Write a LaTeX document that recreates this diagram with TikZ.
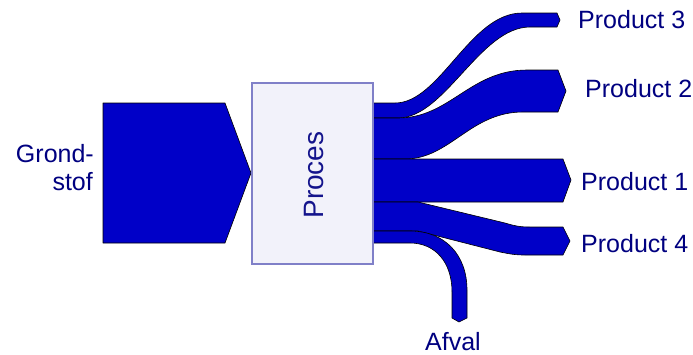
\documentclass[tikz,border=0pt]{standalone}
\usepackage{fontspec}
\setmainfont{Liberation Sans}
\definecolor{flowblue}{RGB}{0,0,200}
\definecolor{labelnavy}{RGB}{0,0,128}
\definecolor{boxfill}{RGB}{242,242,250}
\definecolor{boxline}{RGB}{128,128,200}
\begin{document}
\begin{tikzpicture}[x=1pt,y=-1pt,
  flow/.style={fill=flowblue,draw=black,line width=0.6pt,line join=round},
  lbl/.style={text=labelnavy,inner sep=0pt,font=\fontsize{25}{28}\selectfont},
  procbox/.style={fill=boxfill,draw=boxline,line width=1.4pt}]
\useasboundingbox (0,0) rectangle (693,354);

% raw material arrow
\draw[flow] (103,103) -- (225,103) -- (251,173) -- (225,243) -- (103,243) -- cycle;

% product 3
\draw[flow] (373,103) -- (395,103) .. controls (440,103) and (470,13) .. (522,13)
  -- (557,13) -- (560,20) -- (557,27) -- (530,27)
  .. controls (480,27) and (445,118) .. (398,118) -- (373,118) -- cycle;
% product 2
\draw[flow] (373,118) -- (398,118) .. controls (450,118) and (470,70) .. (527,70)
  -- (558,70) -- (566,91) -- (558,112) -- (523,112)
  .. controls (470,112) and (450,159) .. (405,159) -- (373,159) -- cycle;
% product 1
\draw[flow] (373,159) -- (563,159) -- (571,180) -- (563,202) -- (373,202) -- cycle;
% product 4
\draw[flow] (373,202) -- (418,202) -- (505,223) .. controls (515,226) and (520,227) .. (530,227)
  -- (563,227) -- (570,241) -- (563,255) -- (525,255)
  .. controls (515,255) and (510,254) .. (500,252) -- (418,231) -- (373,231) -- cycle;
% waste
\draw[flow] (373,231) -- (410,231) .. controls (445,231) and (467,255) .. (467,290)
  -- (467,318) -- (459,322) -- (452,318) -- (452,292)
  .. controls (452,262) and (435,243) .. (410,243) -- (373,243) -- cycle;

% process box
\draw[procbox] (252,83) rectangle (373,264);
\node[text={rgb,255:red,20;green,20;blue,140},inner sep=0pt,rotate=90,
  font=\fontsize{28}{32}\selectfont] (proces) at (314,175) {Proces};

% labels
\node[lbl,anchor=base east] (grond) at (94,162) {Grond-};
\node[lbl,anchor=base east] (stof) at (93,190) {stof};
\node[lbl,anchor=base west] (p3) at (578,28) {Product 3};
\node[lbl,anchor=base west] (p2) at (585,97) {Product 2};
\node[lbl,anchor=base west] (p1) at (581,190) {Product 1};
\node[lbl,anchor=base west] (p4) at (581,252) {Product 4};
\node[lbl,anchor=base] (afval) at (453,350) {Afval};
\end{tikzpicture}
\end{document}
